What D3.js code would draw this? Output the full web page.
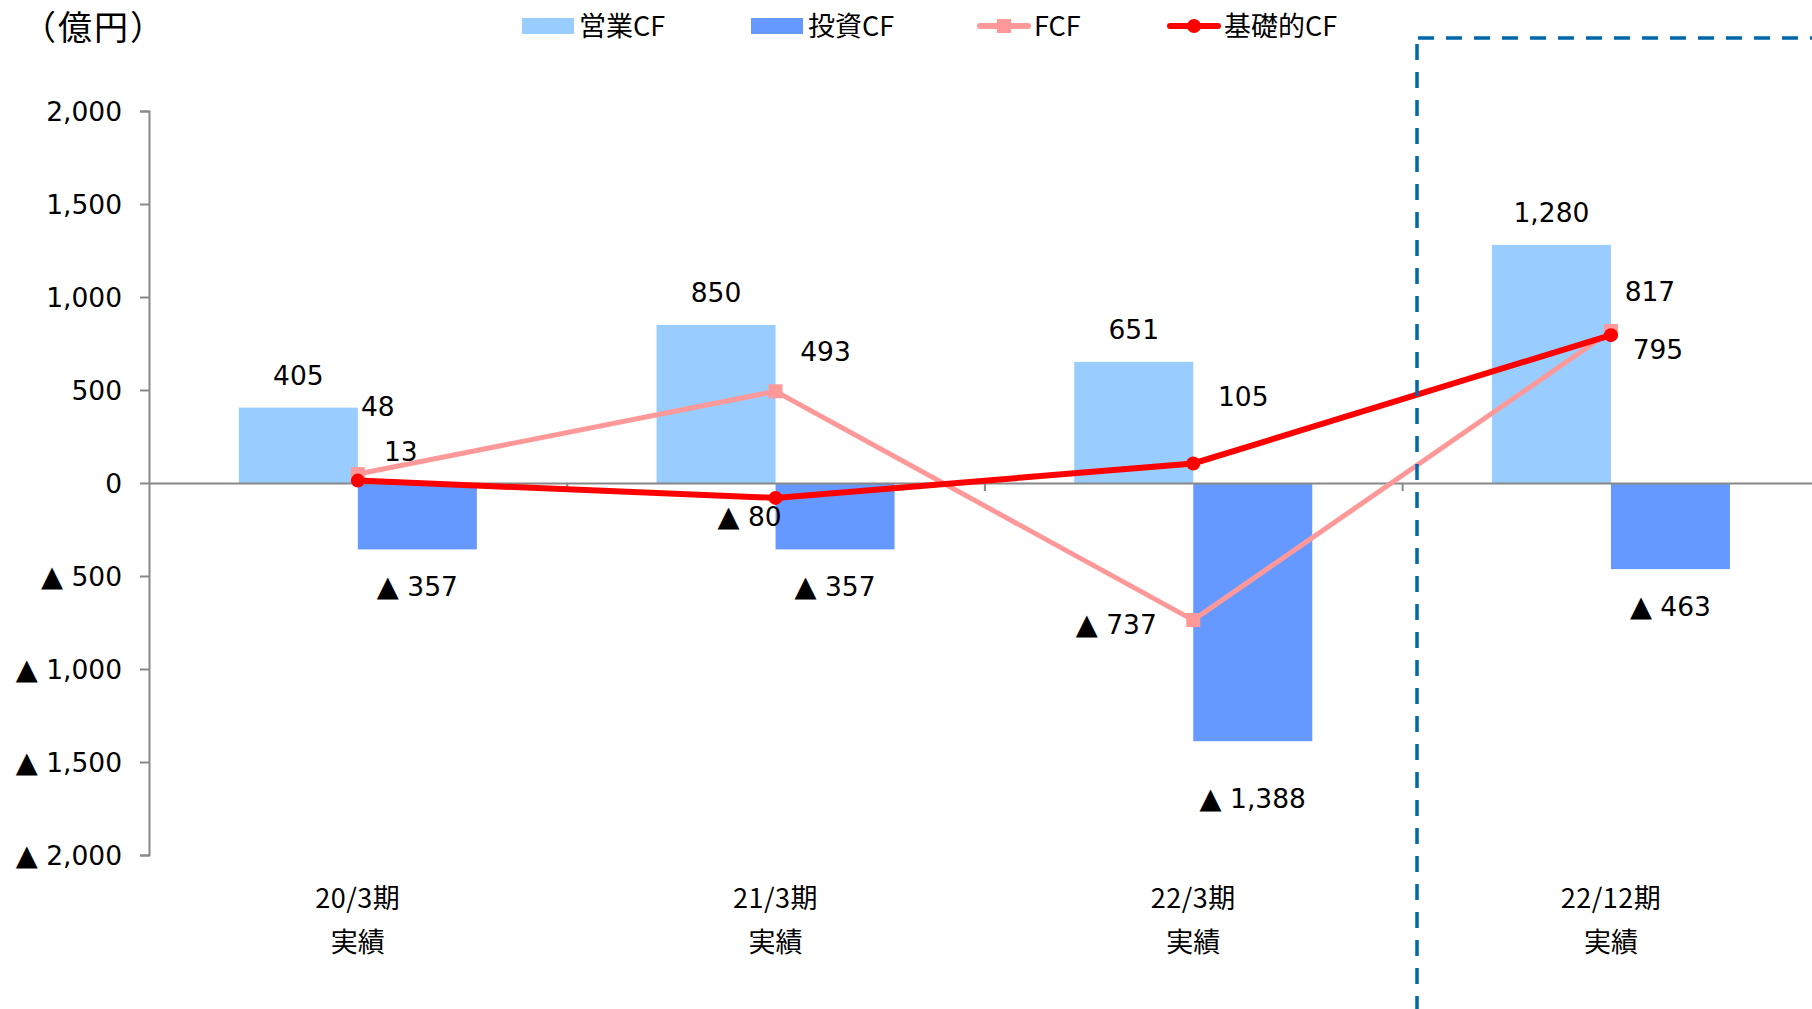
<!DOCTYPE html>
<html>
<head>
<meta charset="utf-8">
<script src="https://cdn.jsdelivr.net/npm/d3@7"></script>
<style>
  body { margin: 0; background: #fff; }
  svg { display: block; }
  .num { font-family: "DejaVu Sans", Verdana, sans-serif; font-size: 26.5px; fill: #000; }
  .jp { font-family: "Noto Sans CJK JP", sans-serif; font-size: 27px; fill: #000; }
</style>
</head>
<body>
<div id="chart"></div>
<script>
// data
const categories = ["20/3期", "21/3期", "22/3期", "22/12期"];
const subLabels = ["実績", "実績", "実績", "実績"];
const operatingCF = [405, 850, 651, 1280];
const investingCF = [-357, -357, -1388, -463];
const freeCF = [48, 493, -737, 817];
const baseCF = [13, -80, 105, 795];
const yTicks = [2000, 1500, 1000, 500, 0, -500, -1000, -1500, -2000];

// label offsets (px) from the mark they belong to
const opLabelDy = [-32, -32, -32, -32];
const invLabelDy = [37, 37, 57, 37];
const fcfLabelOff = [[20, -68], [50, -40], [-77, 4], [39, -40]];
const baseLabelOff = [[43, -29], [-26, 19], [50, -67], [47, 14]];

const W = 1812, H = 1009;
const plotLeft = 149, step = 417.7;
const barW = 119;

const svg = d3.select("#chart").append("svg")
  .attr("width", W).attr("height", H);

svg.append("rect").attr("width", W).attr("height", H).attr("fill", "#fff");

const x = d3.scaleBand()
  .domain(categories)
  .range([plotLeft, plotLeft + step * categories.length]);
const cx = (c) => x(c) + x.bandwidth() / 2;
const sub = d3.scaleBand().domain(["op", "inv"]).range([-barW, barW]);

const y = d3.scaleLinear().domain([-2000, 2000]).range([855, 111]);

// negative numbers are written with a triangle, Japanese style
const fmtNum = (v) => d3.format(",")(Math.abs(v));
function writeNum(sel) {
  sel.each(function (d) {
    const t = d3.select(this);
    if (d < 0) {
      t.append("tspan").attr("font-size", "1.08em").text("▲");
      t.append("tspan").text(" " + fmtNum(d));
    } else {
      t.text(fmtNum(d));
    }
  });
}

// y axis
const yAxis = svg.append("g")
  .attr("transform", `translate(${plotLeft},0)`)
  .call(d3.axisLeft(y).tickValues(yTicks).tickSize(9).tickSizeOuter(9).tickFormat(""));
yAxis.selectAll("path, line").attr("stroke", "#888").attr("stroke-width", 2);

yAxis.selectAll(".tlabel").data(yTicks).join("text")
  .attr("class", "num")
  .attr("x", -27)
  .attr("y", (d) => y(d))
  .attr("dy", "0.36em")
  .attr("text-anchor", "end")
  .call(writeNum);

// bars
const g = svg.append("g");
g.selectAll(".op").data(operatingCF).join("rect")
  .attr("x", (d, i) => cx(categories[i]) + sub("op"))
  .attr("y", (d) => y(Math.max(0, d)))
  .attr("width", sub.bandwidth())
  .attr("height", (d) => Math.abs(y(d) - y(0)))
  .attr("fill", "#99CCFF");
g.selectAll(".inv").data(investingCF).join("rect")
  .attr("x", (d, i) => cx(categories[i]) + sub("inv"))
  .attr("y", (d) => y(Math.max(0, d)))
  .attr("width", sub.bandwidth())
  .attr("height", (d) => Math.abs(y(d) - y(0)))
  .attr("fill", "#6699FF");

// x axis at zero
const bx = d3.scaleLinear().domain([0, categories.length]).range([plotLeft, plotLeft + step * categories.length]);
const xAxis = svg.append("g")
  .attr("transform", `translate(0,${y(0)})`)
  .call(d3.axisBottom(bx).tickValues([1, 2, 3]).tickSize(8).tickSizeOuter(0).tickFormat(""));
xAxis.selectAll("path, line").attr("stroke", "#888").attr("stroke-width", 2);

// lines
const line = d3.line().x((d, i) => cx(categories[i])).y((d) => y(d));
svg.append("path").datum(freeCF)
  .attr("d", line).attr("fill", "none")
  .attr("stroke", "#FF9999").attr("stroke-width", 5);
svg.selectAll(".fcfm").data(freeCF).join("rect")
  .attr("x", (d, i) => cx(categories[i]) - 7)
  .attr("y", (d) => y(d) - 7)
  .attr("width", 14).attr("height", 14)
  .attr("fill", "#FF9999");

svg.append("path").datum(baseCF)
  .attr("d", line).attr("fill", "none")
  .attr("stroke", "#FF0000").attr("stroke-width", 6);
svg.selectAll(".basem").data(baseCF).join("circle")
  .attr("cx", (d, i) => cx(categories[i]))
  .attr("cy", (d) => y(d))
  .attr("r", 7)
  .attr("fill", "#FF0000");

// data labels
const lab = svg.append("g").attr("class", "num").attr("text-anchor", "middle");
lab.selectAll(".l1").data(operatingCF).join("text")
  .attr("x", (d, i) => cx(categories[i]) + sub("op") + barW / 2)
  .attr("y", (d, i) => y(d) + opLabelDy[i])
  .attr("dy", "0.36em").call(writeNum);
lab.selectAll(".l2").data(investingCF).join("text")
  .attr("x", (d, i) => cx(categories[i]) + sub("inv") + barW / 2)
  .attr("y", (d, i) => y(d) + invLabelDy[i])
  .attr("dy", "0.36em").call(writeNum);
lab.selectAll(".l3").data(freeCF).join("text")
  .attr("x", (d, i) => cx(categories[i]) + fcfLabelOff[i][0])
  .attr("y", (d, i) => y(d) + fcfLabelOff[i][1])
  .attr("dy", "0.36em").call(writeNum);
lab.selectAll(".l4").data(baseCF).join("text")
  .attr("x", (d, i) => cx(categories[i]) + baseLabelOff[i][0])
  .attr("y", (d, i) => y(d) + baseLabelOff[i][1])
  .attr("dy", "0.36em").call(writeNum);

// category labels
const cat = svg.append("g").attr("class", "jp").attr("text-anchor", "middle");
cat.selectAll(".c1").data(categories).join("text")
  .attr("x", (d) => cx(d)).attr("y", 898).attr("dy", "0.36em")
  .attr("letter-spacing", 0.5).text((d) => d);
cat.selectAll(".c2").data(subLabels).join("text")
  .attr("x", (d, i) => cx(categories[i])).attr("y", 942).attr("dy", "0.36em").text((d) => d);

// unit
svg.append("text").attr("class", "jp")
  .attr("x", 22).attr("y", 28).attr("dy", "0.36em")
  .attr("letter-spacing", 2)
  .style("font-size", "34px").text("（億円）");

// legend
const legend = svg.append("g").attr("transform", "translate(0,26)");
const legItems = [
  { name: "営業CF", x: 522, type: "bar", color: "#99CCFF" },
  { name: "投資CF", x: 751, type: "bar", color: "#6699FF" },
  { name: "FCF", x: 977, type: "sq", color: "#FF9999" },
  { name: "基礎的CF", x: 1167, type: "dot", color: "#FF0000" }
];
legItems.forEach((it) => {
  const lg = legend.append("g").attr("transform", `translate(${it.x},0)`);
  if (it.type === "bar") {
    lg.append("rect").attr("x", 0).attr("y", -8).attr("width", 52).attr("height", 16).attr("fill", it.color);
  } else {
    lg.append("line").attr("x1", 3).attr("x2", 51).attr("stroke", it.color)
      .attr("stroke-width", 6).attr("stroke-linecap", "round");
    if (it.type === "sq") {
      lg.append("rect").attr("x", 20).attr("y", -7).attr("width", 14).attr("height", 14).attr("fill", it.color);
    } else {
      lg.append("circle").attr("cx", 27).attr("r", 7).attr("fill", it.color);
    }
  }
  lg.append("text").attr("class", "jp").attr("x", 57).attr("dy", "0.36em").text(it.name);
});

// dashed frame around the latest period
const frame = svg.append("g").attr("fill", "none")
  .attr("stroke", "#0068AA").attr("stroke-width", 3.5).attr("stroke-dasharray", "16,12");
frame.append("line").attr("x1", 1417).attr("x2", 1417).attr("y1", 44).attr("y2", H);
frame.append("line").attr("x1", 1418).attr("x2", W).attr("y1", 38).attr("y2", 38);
</script>
</body>
</html>
